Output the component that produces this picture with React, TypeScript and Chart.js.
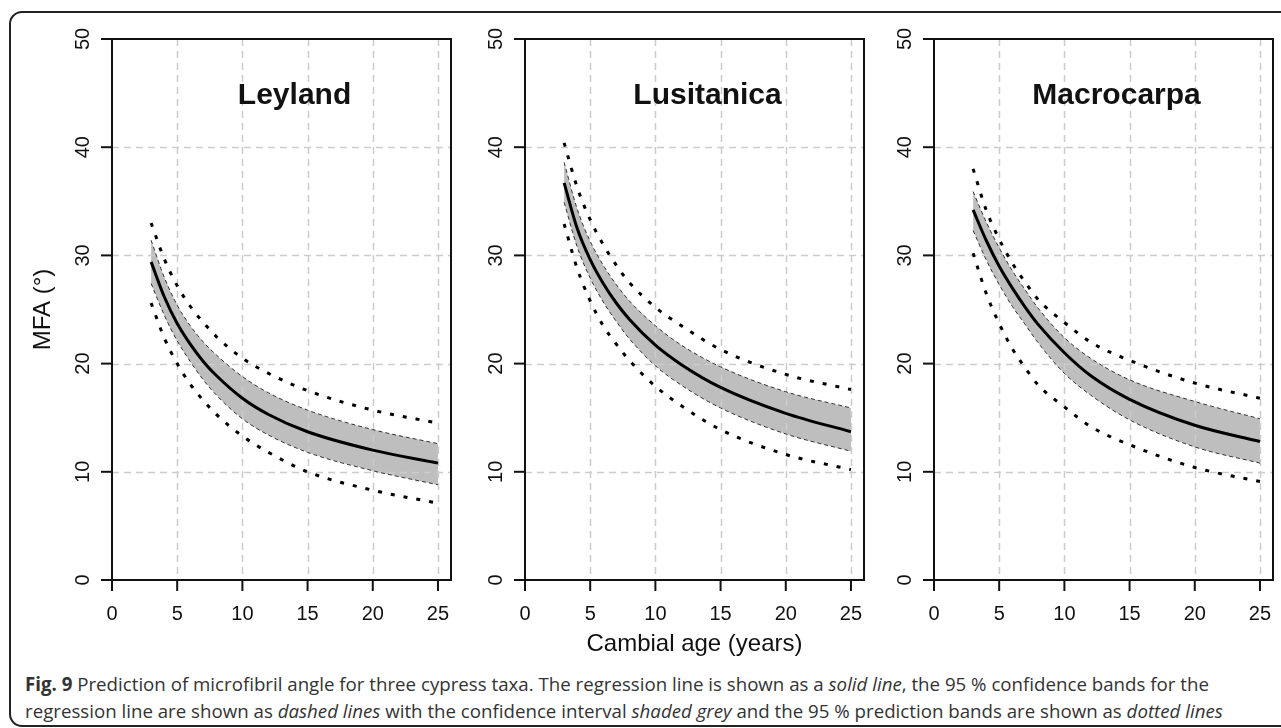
import React, { useEffect, useRef } from "react";
import { Chart, registerables } from "chart.js";

Chart.register(...registerables);

// ---- data ----
const cambialAge = [3, 4, 5, 6, 7, 8, 10, 12, 15, 20, 25];

const leylandFit = [29.4, 26.2, 23.7, 21.8, 20.2, 18.9, 16.8, 15.3, 13.7, 12.0, 10.8];
const leylandCiUpper = [31.4, 28.0, 25.4, 23.5, 22.0, 20.8, 18.8, 17.3, 15.7, 13.9, 12.6];
const leylandCiLower = [27.4, 24.5, 22.1, 20.2, 18.5, 17.1, 14.9, 13.4, 11.8, 10.1, 8.8];
const leylandPiUpper = [33.0, 29.7, 27.2, 25.3, 23.8, 22.5, 20.5, 19.1, 17.5, 15.7, 14.5];
const leylandPiLower = [25.6, 22.4, 20.0, 18.1, 16.6, 15.3, 13.3, 11.8, 10.0, 8.3, 7.1];

const lusitanicaFit = [36.7, 32.5, 29.6, 27.4, 25.6, 24.1, 21.7, 19.9, 17.8, 15.4, 13.7];
const lusitanicaCiUpper = [38.6, 34.3, 31.3, 29.1, 27.3, 25.8, 23.5, 21.7, 19.7, 17.4, 15.9];
const lusitanicaCiLower = [34.9, 30.8, 27.9, 25.7, 23.9, 22.3, 19.8, 18.0, 15.9, 13.5, 11.9];
const lusitanicaPiUpper = [40.4, 36.3, 33.3, 31.0, 29.1, 27.5, 25.2, 23.5, 21.3, 19.0, 17.6];
const lusitanicaPiLower = [32.9, 28.8, 25.8, 23.5, 21.8, 20.3, 17.9, 16.1, 13.9, 11.6, 10.2];

const macrocarpaFit = [34.2, 31.4, 29.0, 27.0, 25.2, 23.6, 21.0, 18.9, 16.7, 14.3, 12.8];
const macrocarpaCiUpper = [35.9, 33.1, 30.7, 28.6, 26.8, 25.1, 22.4, 20.5, 18.5, 16.5, 14.9];
const macrocarpaCiLower = [32.3, 29.6, 27.3, 25.3, 23.6, 21.9, 19.1, 17.1, 14.8, 12.3, 10.8];
const macrocarpaPiUpper = [38.0, 34.2, 31.5, 29.3, 27.5, 25.9, 23.8, 22.0, 20.3, 18.2, 16.8];
const macrocarpaPiLower = [30.2, 26.5, 23.7, 21.4, 19.6, 18.0, 16.0, 14.2, 12.5, 10.4, 9.1];

const xTickValues = [0, 5, 10, 15, 20, 25];
const yTickValues = [0, 10, 20, 30, 40, 50];
const panelTitles = ["Leyland", "Lusitanica", "Macrocarpa"];
const yAxisTitle = "MFA (°)";
const xAxisTitle = "Cambial age (years)";

// ---- layout ----
const FONT = '"Liberation Sans", Arial, Helvetica, sans-serif';
const PLOT_TOP = 39;
const PLOT_BOTTOM = 580;
const PLOT_W = 339;
const PAD_L = 100;
const PAD_R = 8;
const CANVAS_H = 665;
const panelLefts = [112, 525, 934];

type PanelProps = {
  left: number;
  title: string;
  fit: number[];
  ciU: number[];
  ciL: number[];
  piU: number[];
  piL: number[];
  showYTitle: boolean;
  showXTitle: boolean;
};

function Panel(props: PanelProps) {
  const ref = useRef<HTMLCanvasElement>(null);
  useEffect(() => {
    const toPts = (arr: number[]) => arr.map((y, i) => ({ x: cambialAge[i], y }));
    const rAxes = {
      id: "rAxes",
      beforeDatasetsDraw(chart: any) {
        const { ctx, chartArea: a, scales } = chart;
        const x = scales.x;
        const y = scales.y;
        ctx.save();
        ctx.strokeStyle = "#cccccc";
        ctx.lineWidth = 1.5;
        ctx.setLineDash([7, 5]);
        for (const t of xTickValues) {
          if (t === 0) continue;
          const px = Math.round(x.getPixelForValue(t)) + 0.5;
          ctx.beginPath();
          ctx.moveTo(px, a.top);
          ctx.lineTo(px, a.bottom);
          ctx.stroke();
        }
        for (const t of yTickValues) {
          if (t === 0 || t === 50) continue;
          const py = Math.round(y.getPixelForValue(t)) + 0.5;
          ctx.beginPath();
          ctx.moveTo(a.left, py);
          ctx.lineTo(a.right, py);
          ctx.stroke();
        }
        ctx.restore();
      },
      afterDatasetsDraw(chart: any) {
        const { ctx, chartArea: a, scales } = chart;
        const x = scales.x;
        const y = scales.y;
        ctx.save();
        ctx.setLineDash([]);
        ctx.strokeStyle = "#111";
        ctx.lineWidth = 2;
        ctx.strokeRect(a.left, a.top, a.right - a.left, a.bottom - a.top);
        ctx.fillStyle = "#111";
        ctx.font = `20px ${FONT}`;
        ctx.textAlign = "center";
        ctx.textBaseline = "alphabetic";
        for (const t of xTickValues) {
          const px = x.getPixelForValue(t);
          ctx.beginPath();
          ctx.moveTo(px, a.bottom);
          ctx.lineTo(px, a.bottom + 11);
          ctx.stroke();
          ctx.fillText(String(t), px, a.bottom + 40);
        }
        for (const t of yTickValues) {
          const py = y.getPixelForValue(t);
          ctx.beginPath();
          ctx.moveTo(a.left - 11, py);
          ctx.lineTo(a.left, py);
          ctx.stroke();
          ctx.save();
          ctx.translate(a.left - 23, py);
          ctx.rotate(-Math.PI / 2);
          ctx.fillText(String(t), 0, 0);
          ctx.restore();
        }
        // panel title
        ctx.font = `bold 30px ${FONT}`;
        ctx.fillText(props.title, x.getPixelForValue(14), y.getPixelForValue(45) + 10.5);
        ctx.font = `24px ${FONT}`;
        if (props.showYTitle) {
          ctx.save();
          ctx.translate(a.left - 62, (a.top + a.bottom) / 2);
          ctx.rotate(-Math.PI / 2);
          ctx.fillText(yAxisTitle, 0, 0);
          ctx.restore();
        }
        if (props.showXTitle) {
          ctx.fillText(xAxisTitle, (a.left + a.right) / 2, a.bottom + 71);
        }
        ctx.restore();
      },
    };

    const common = { pointRadius: 0, cubicInterpolationMode: "monotone" as const };
    const chart = new Chart(ref.current as HTMLCanvasElement, {
      type: "line",
      data: {
        datasets: [
          { ...common, data: toPts(props.fit), borderColor: "#000", borderWidth: 3, fill: false },
          { ...common, data: toPts(props.piU), borderColor: "#000", borderWidth: 3, borderDash: [4, 9], borderCapStyle: "butt", fill: false },
          { ...common, data: toPts(props.piL), borderColor: "#000", borderWidth: 3, borderDash: [4, 9], borderCapStyle: "butt", fill: false },
          { ...common, data: toPts(props.ciU), borderColor: "#333", borderWidth: 1, borderDash: [4, 3], fill: "+1", backgroundColor: "#bebebe" },
          { ...common, data: toPts(props.ciL), borderColor: "#333", borderWidth: 1, borderDash: [4, 3], fill: false },
        ] as any,
      },
      options: {
        animation: false,
        responsive: false,
        maintainAspectRatio: false,
        devicePixelRatio: 1,
        events: [],
        layout: { padding: { left: PAD_L, top: PLOT_TOP, right: PAD_R, bottom: CANVAS_H - PLOT_BOTTOM } },
        scales: {
          x: { type: "linear", min: 0, max: 26, display: false },
          y: { type: "linear", min: 0, max: 50, display: false },
        },
        plugins: {
          legend: { display: false },
          tooltip: { enabled: false },
          filler: { drawTime: "beforeDatasetsDraw" },
        } as any,
      },
      plugins: [rAxes],
    });
    return () => chart.destroy();
  }, []);
  return (
    <canvas
      ref={ref}
      width={PAD_L + PLOT_W + PAD_R}
      height={CANVAS_H}
      style={{ position: "absolute", left: props.left - PAD_L, top: 0, width: PAD_L + PLOT_W + PAD_R, height: CANVAS_H }}
    />
  );
}

export default function App() {
  const captionStyle: React.CSSProperties = {
    position: "absolute",
    left: 25,
    top: 670,
    font: '18.7px "Open Sans", "Noto Sans", sans-serif',
    lineHeight: "27px",
    color: "#333",
    whiteSpace: "nowrap",
  };
  return (
    <div style={{ position: "absolute", left: 0, top: 0, width: 1281, height: 728, overflow: "hidden", background: "#fff" }}>
      <div
        style={{
          position: "absolute",
          left: 9,
          top: 11,
          width: 1300,
          height: 716,
          border: "2px solid #222",
          borderRadius: 13,
          boxSizing: "border-box",
        }}
      />
      <Panel left={panelLefts[0]} title={panelTitles[0]} fit={leylandFit} ciU={leylandCiUpper} ciL={leylandCiLower} piU={leylandPiUpper} piL={leylandPiLower} showYTitle={true} showXTitle={false} />
      <Panel left={panelLefts[1]} title={panelTitles[1]} fit={lusitanicaFit} ciU={lusitanicaCiUpper} ciL={lusitanicaCiLower} piU={lusitanicaPiUpper} piL={lusitanicaPiLower} showYTitle={false} showXTitle={true} />
      <Panel left={panelLefts[2]} title={panelTitles[2]} fit={macrocarpaFit} ciU={macrocarpaCiUpper} ciL={macrocarpaCiLower} piU={macrocarpaPiUpper} piL={macrocarpaPiLower} showYTitle={false} showXTitle={false} />
      <div style={captionStyle}>
        <b>Fig. 9</b> Prediction of microfibril angle for three cypress taxa. The regression line is shown as a <i>solid line</i>, the 95 % confidence bands for the
        <br />
        regression line are shown as <i>dashed lines</i> with the confidence interval <i>shaded grey</i> and the 95 % prediction bands are shown as <i>dotted lines</i>
      </div>
    </div>
  );
}
